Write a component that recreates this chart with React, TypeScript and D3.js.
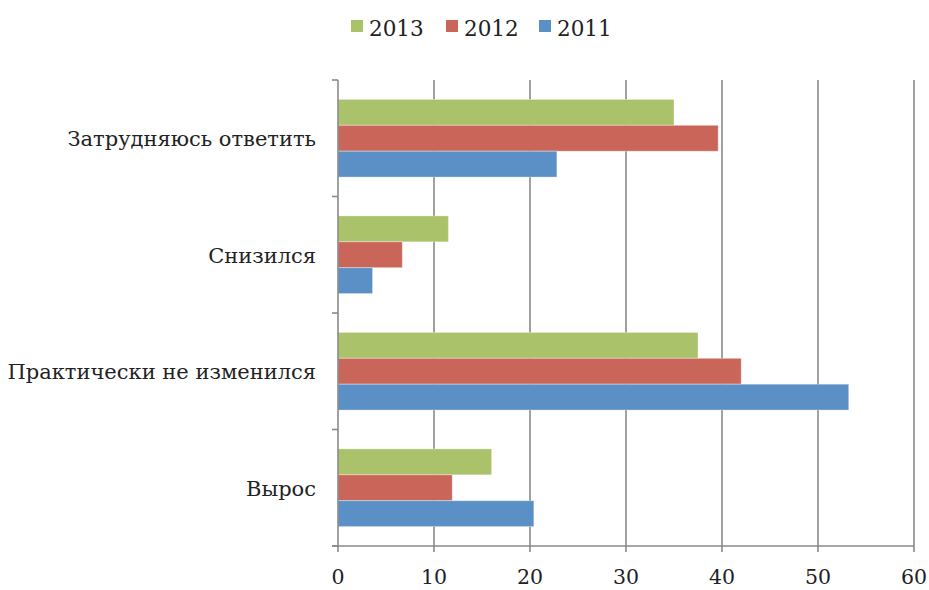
import React from "react";
import * as d3 from "d3";

const categories = ["Затрудняюсь ответить", "Снизился", "Практически не изменился", "Вырос"];
const seriesNames = ["2013", "2012", "2011"];
const values2013 = [35.0, 11.5, 37.5, 16.0];
const values2012 = [39.6, 6.7, 42.0, 11.9];
const values2011 = [22.8, 3.6, 53.2, 20.4];
const xTicks = [0, 10, 20, 30, 40, 50, 60];
const colors = ["#AAC26A", "#CA655A", "#5B90C6"];

const W = 929;
const H = 590;
const left = 338;
const right = 914;
const top = 80;
const bottom = 546;
const FONT = "'DejaVu Serif', serif";

export default function App() {
  const series = [values2013, values2012, values2011];
  const x = d3.scaleLinear().domain([0, 60]).range([left, right]);
  const y = d3.scaleBand().domain(categories).range([top, bottom]).paddingInner(0).paddingOuter(0);
  const inner = d3
    .scaleBand()
    .domain(seriesNames)
    .range([0, y.bandwidth()])
    .paddingOuter(0.75)
    .paddingInner(0);

  const bandEdges = categories.map((c) => y(c) as number).concat([bottom]);

  return (
    <svg width={W} height={H} style={{ position: "absolute", left: 0, top: 0, background: "#fff" }}>
      {/* legend */}
      {seriesNames.map((s, i) => {
        const lx = [351, 446, 539][i];
        return (
          <g key={s}>
            <rect x={lx} y={20} width={12} height={12} fill={colors[i]} />
            <text x={lx + 18} y={36} fontFamily={FONT} fontSize={21.5} fill="#222">
              {s}
            </text>
          </g>
        );
      })}

      {/* gridlines */}
      {xTicks.slice(1).map((t) => (
        <line key={t} x1={x(t)} x2={x(t)} y1={top} y2={bottom} stroke="#8a8a8a" strokeWidth={1.6} />
      ))}

      {/* bars */}
      {categories.map((c, ci) =>
        seriesNames.map((s, si) => {
          const v = series[si][ci];
          return (
            <rect
              key={c + s}
              x={x(0)}
              y={(y(c) as number) + (inner(s) as number)}
              width={x(v) - x(0)}
              height={inner.bandwidth()}
              fill={colors[si]}
              stroke="#ffffff"
              strokeOpacity={0.35}
              strokeWidth={1}
            />
          );
        })
      )}

      {/* axes */}
      <line x1={left} x2={left} y1={top} y2={bottom} stroke="#8a8a8a" strokeWidth={1.6} />
      <line x1={left - 6} x2={right} y1={bottom} y2={bottom} stroke="#8a8a8a" strokeWidth={1.6} />
      {bandEdges.map((e, i) => (
        <line key={i} x1={left - 6} x2={left} y1={e} y2={e} stroke="#8a8a8a" strokeWidth={1.6} />
      ))}
      {xTicks.map((t) => (
        <line key={t} x1={x(t)} x2={x(t)} y1={bottom} y2={bottom + 6} stroke="#8a8a8a" strokeWidth={1.6} />
      ))}

      {/* tick labels */}
      {xTicks.map((t) => (
        <text
          key={t}
          x={x(t)}
          y={584}
          textAnchor="middle"
          fontFamily={FONT}
          fontSize={20.5}
          fill="#222"
        >
          {t}
        </text>
      ))}

      {/* category labels */}
      {categories.map((c) => (
        <text
          key={c}
          x={316}
          y={(y(c) as number) + y.bandwidth() / 2 + 8}
          textAnchor="end"
          fontFamily={FONT}
          fontSize={21}
          fill="#222"
        >
          {c}
        </text>
      ))}
    </svg>
  );
}
